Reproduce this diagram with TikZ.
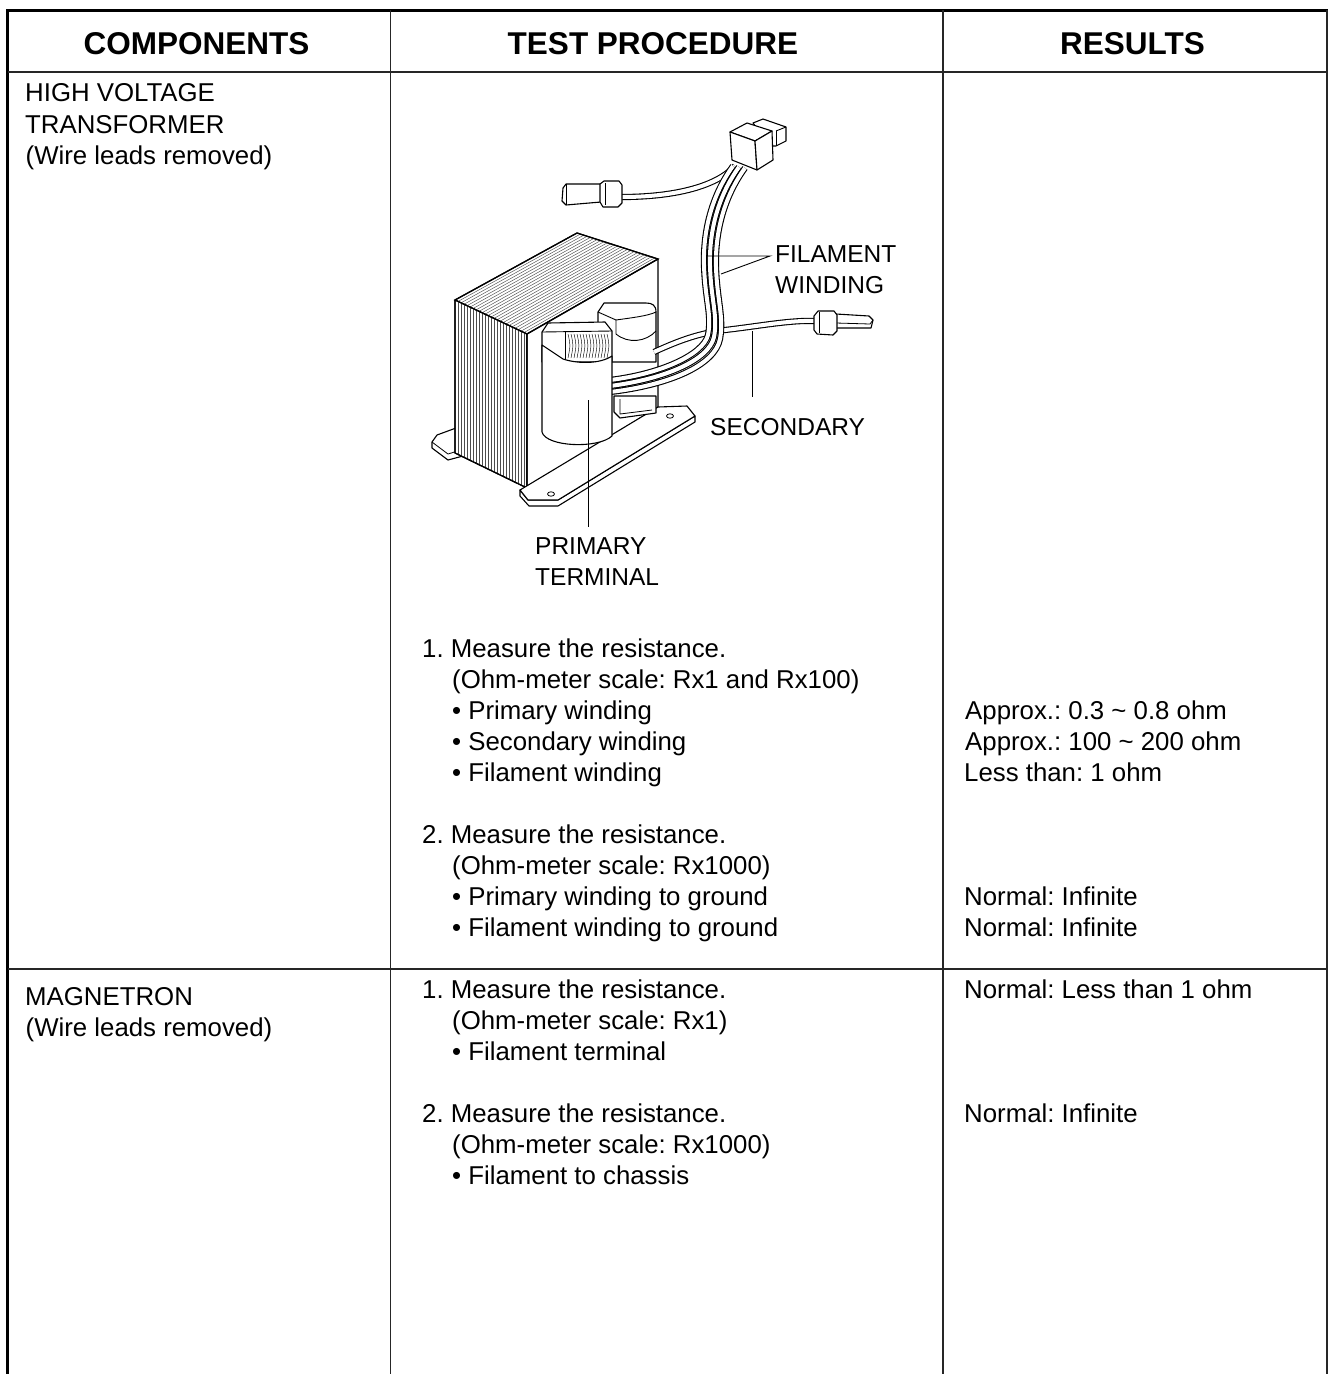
\documentclass[tikz,border=0pt]{standalone}
\usepackage{fontspec}
\setmainfont{Liberation Sans}
\usetikzlibrary{calc}
\frenchspacing
\begin{document}
\begin{tikzpicture}[x=1pt,y=-1pt,
  txt/.style={anchor=base west, inner sep=0pt, font=\fontsize{25.8pt}{31pt}\selectfont},
  lbl/.style={anchor=base west, inner sep=0pt, font=\fontsize{24.5pt}{30pt}\selectfont},
  hdr/.style={anchor=base, inner sep=0pt, font=\fontsize{31.5pt}{38pt}\selectfont\bfseries},
  frame/.style={line width=3pt, line join=miter},
  rule/.style={line width=1.4pt, black!85},
  ol/.style={line width=1.1pt, line join=round, fill=white},
  lam/.style={line width=0.45pt, black!70},
  wire/.style={double=white, double distance=4pt, line width=1.1pt},
  lead/.style={line width=0.9pt}]

\useasboundingbox (0,0) rectangle (1328,1374);

% ---------------- table -----------------
\draw[frame] (7.5,1374) -- (7.5,10.5) -- (1328,10.5);
\draw[rule] (1327,10) -- (1327,1374);
\draw[rule] (7.5,72) -- (1328,72);
\draw[rule] (7.5,969) -- (1328,969);
\draw[rule] (390.5,10) -- (390.5,1374);
\draw[rule] (943,10) -- (943,1374);

\node[hdr] (h1) at (196.5,54) {COMPONENTS};
\node[hdr] (h2) at (653,54) {TEST PROCEDURE};
\node[hdr] (h3) at (1132.5,54) {RESULTS};

\node[txt] (c1a) at (25,101.5) {HIGH VOLTAGE};
\node[txt] (c1b) at (25,133) {TRANSFORMER};
\node[txt] (c1c) at (25.5,164) {(Wire leads removed)};
\node[txt] (c2a) at (25,1005) {MAGNETRON};
\node[txt] (c2b) at (25.5,1036) {(Wire leads removed)};

\node[txt] (p1) at (422,657) {1. Measure the resistance.};
\node[txt] (p2) at (452,688) {(Ohm-meter scale: Rx1 and Rx100)};
\node[txt] (p3) at (452,719) {• Primary winding};
\node[txt] (p4) at (452,750) {• Secondary winding};
\node[txt] (p5) at (452,781) {• Filament winding};
\node[txt] (p6) at (422,843) {2. Measure the resistance.};
\node[txt] (p7) at (452,874) {(Ohm-meter scale: Rx1000)};
\node[txt] (p8) at (452,905) {• Primary winding to ground};
\node[txt] (p9) at (452,936) {• Filament winding to ground};

\node[txt] (r1) at (965,719) {Approx.: 0.3 \textasciitilde{} 0.8 ohm};
\node[txt] (r2) at (965,750) {Approx.: 100 \textasciitilde{} 200 ohm};
\node[txt] (r3) at (964,781) {Less than: 1 ohm};
\node[txt] (r4) at (964,905) {Normal: Infinite};
\node[txt] (r5) at (964,936) {Normal: Infinite};
\node[txt] (r6) at (964,998) {Normal: Less than 1 ohm};
\node[txt] (r7) at (964,1122) {Normal: Infinite};

\node[txt] (m1) at (422,998) {1. Measure the resistance.};
\node[txt] (m2) at (452,1029) {(Ohm-meter scale: Rx1)};
\node[txt] (m3) at (452,1060) {• Filament terminal};
\node[txt] (m4) at (422,1122) {2. Measure the resistance.};
\node[txt] (m5) at (452,1153) {(Ohm-meter scale: Rx1000)};
\node[txt] (m6) at (452,1184) {• Filament to chassis};

% ---------------- transformer -----------------
% left foot
\draw[ol] (456,428) -- (437,435) -- (432,442) -- (432,448) -- (448,460) -- (463,456) -- cycle;
\draw[line width=0.8pt] (432,442) -- (448,454) -- (461,450);

% core
\coordinate (A) at (455,300);
\coordinate (B) at (577,233);
\coordinate (C) at (658,259);
\coordinate (D) at (527,334);
\coordinate (A2) at (455,453);
\coordinate (D2) at (527,488);
\coordinate (C2) at (658,407);
\draw[ol] (A) -- (B) -- (C) -- (D) -- cycle;
\draw[ol] (A) -- (D) -- (D2) -- (A2) -- cycle;
\draw[ol] (D) -- (C) -- (C2) -- (D2) -- cycle;
\foreach \i in {1,...,23} {
  \pgfmathsetmacro\t{\i/24}
  \draw[lam] ($(A)!\t!(D)$) -- ($(B)!\t!(C)$);
  \draw[lam] ($(A)!\t!(D)$) -- ($(A2)!\t!(D2)$);
}
\draw[line width=1.3pt] (A) -- (B) -- (C) -- (D) -- cycle;
\draw[line width=1.3pt] (A) -- (A2) -- (D2) -- (D);

% bracket
\draw[ol] (520,490) -- (520,496) -- (529,506) -- (558,506) -- (695,422) -- (695,416) -- (558,500) -- (528,500) -- cycle;
\draw[ol] (520,490) -- (658,407) -- (687,406) -- (695,416) -- (558,500) -- (528,500) -- cycle;
\draw[line width=0.8pt] (670,416) ellipse [x radius=3.5pt, y radius=2.2pt];
\draw[line width=0.8pt] (551,494) ellipse [x radius=3.5pt, y radius=2.2pt];

% secondary coil (rear)
\draw[ol] (598,312) -- (598,362) -- (656,362) -- (656,312) .. controls (656,305) and (652,303) .. (646,303) -- (604,303) -- cycle;
\draw[line width=0.9pt] (598,312) -- (616,320) -- (616,334);
\draw[line width=0.9pt] (616,320) .. controls (630,318) and (648,316) .. (656,312);
\draw[line width=0.9pt] (616,334) .. controls (628,344) and (646,342) .. (656,331);
% lower flange
\draw[ol] (614,396) -- (614,412) -- (620,418) -- (656,413) -- (656,396) -- cycle;
\draw[line width=0.8pt] (620,399) -- (620,414) -- (652,410);

% left connector wire
\draw[wire] (622,197) .. controls (670,197) and (715,188) .. (735,166);
% secondary wire
\draw[wire] (654,352) .. controls (680,340) and (700,333) .. (725,330) .. controls (760,326) and (790,320) .. (815,321);
% filament bundle
\draw[wire] (733,166) .. controls (712,195) and (703,230) .. (704,265) .. controls (705,300) and (712,315) .. (708,335) .. controls (703,355) and (660,374) .. (610,380);
\draw[wire] (739,167) .. controls (718,196) and (709,231) .. (710,266) .. controls (711,300) and (718,316) .. (714,337) .. controls (709,360) and (665,379) .. (610,386);
\draw[wire] (745,168) .. controls (724,197) and (715,232) .. (716,267) .. controls (717,300) and (724,317) .. (720,339) .. controls (715,365) and (670,385) .. (610,392);

% primary coil (front)
\draw[ol] (542,332) -- (548,323) -- (605,322) -- (612,331) -- (612,362) -- (542,362) -- cycle;
\draw[line width=0.9pt] (542,332) -- (612,331);
\draw[line width=0.9pt] (565,332) -- (565,360);
\foreach \x in {568,571,...,609} {
  \draw[line width=0.45pt] (\x,334) .. controls (\x+2.5,345) .. (\x,358);
}
\draw[ol] (542,345) -- (542,432) .. controls (546,447) and (598,449) .. (612,436) -- (612,356) .. controls (600,364) and (578,364) .. (563,359) -- cycle;

% connector block (top)
\draw[ol] (753,123) -- (763,119) -- (786,127) -- (786,141) -- (776,146) -- (770,146) -- cycle;
\draw[line width=0.9pt] (776,131) -- (786,127);
\draw[line width=0.9pt] (776,131) -- (776,146);
\draw[ol] (730,132) -- (747,123) -- (772,131) -- (755,141) -- cycle;
\draw[ol] (730,132) -- (755,141) -- (757,170) -- (732,160) -- cycle;
\draw[ol] (755,141) -- (772,131) -- (773,160) -- (757,170) -- cycle;

% left terminal
\draw[ol] (563,188) -- (566,184) -- (601,184) -- (601,202) -- (566,205) -- (562,201) -- cycle;
\draw[line width=0.8pt] (566,184) -- (566,205);
\draw[ol] (600,184) -- (604,181) -- (619,181) -- (622,185) -- (622,203) -- (618,207) -- (603,207) -- (600,202) -- cycle;
\draw[line width=0.8pt] (605,183) -- (605,205);

% right terminal
\draw[ol] (836,314) -- (869,316) -- (873,320) -- (871,328) -- (836,328) -- cycle;
\draw[line width=0.8pt] (836,323) -- (870,324) -- (873,320);
\draw[ol] (814,316) -- (818,311) -- (834,311) -- (837,315) -- (837,331) -- (833,335) -- (817,334) -- (814,330) -- cycle;
\draw[line width=0.8pt] (819,312) -- (819,333);

% leaders and labels
\coordinate (fj) at (770,256);
\coordinate (fa) at (707,256);
\coordinate (fb) at (721,274);
\coordinate (sa) at (752,331);
\coordinate (sb) at (752,397);
\coordinate (pa) at (588,400);
\coordinate (pb) at (588,527);
\draw[lead] (fa) -- (fj) -- (fb);
\draw[lead] (sa) -- (sb);
\draw[lead] (pa) -- (pb);

\node[lbl] (lfil) at (775,262) {FILAMENT};
\node[lbl] (lwin) at (775,293) {WINDING};
\node[lbl] (lsec) at (710,435) {SECONDARY};
\node[lbl] (lpri) at (535,554) {PRIMARY};
\node[lbl] (lter) at (535,585) {TERMINAL};
\end{tikzpicture}
\end{document}
